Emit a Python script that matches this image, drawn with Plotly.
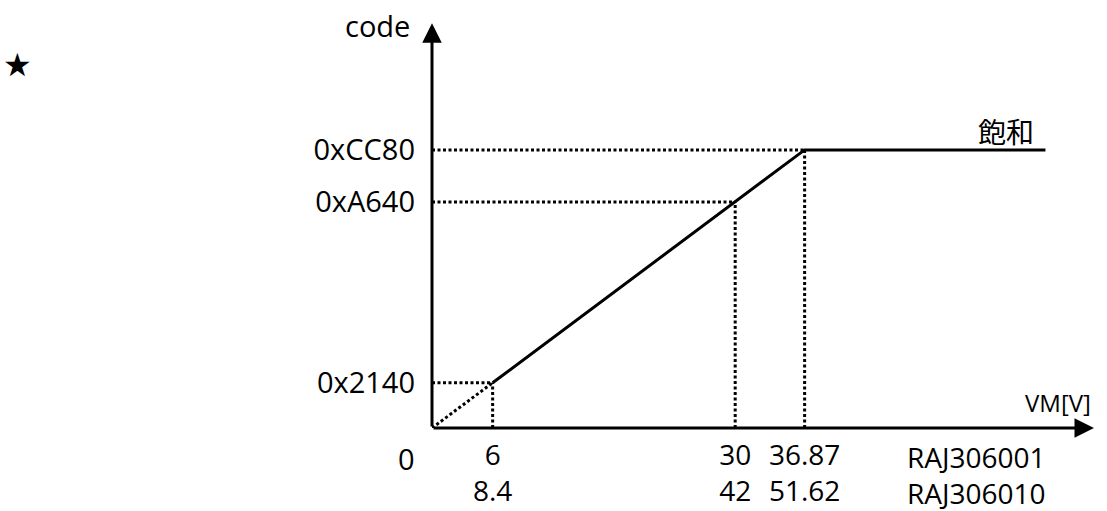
import plotly.graph_objects as go

# VM [V] for RAJ306001, the same points for RAJ306010, and the ADC codes
vm_001 = [6, 30, 36.87]
vm_010 = [8.4, 42, 51.62]
codes = [0x2140, 0xA640, 0xCC80]
code_labels = ["0x2140", "0xA640", "0xCC80"]
vm_sat_end = 60.7  # where the saturation line stops in the sketch
parts = ["RAJ306001", "RAJ306010"]

x_max = 65.8
y_max = 76800
font = "Open Sans"
dot = dict(color="black", width=3, dash="3px,2.5px")

fig = go.Figure()

# dotted guides from the axes to each point
for v, c in zip(vm_001, codes):
    fig.add_trace(go.Scatter(x=[v, v], y=[0, c], mode="lines", line=dot,
                             hoverinfo="skip", showlegend=False))
    fig.add_trace(go.Scatter(x=[0, v], y=[c, c], mode="lines", line=dot,
                             hoverinfo="skip", showlegend=False))

# dotted part below the first point
fig.add_trace(go.Scatter(x=[0, vm_001[0]], y=[0, codes[0]], mode="lines", line=dot,
                         hoverinfo="skip", showlegend=False))

# solid transfer curve with saturation
fig.add_trace(go.Scatter(x=[vm_001[0], vm_001[2], vm_sat_end],
                         y=[codes[0], codes[2], codes[2]], mode="lines",
                         line=dict(color="black", width=3),
                         hoverinfo="skip", showlegend=False))

ann = []
# axes with arrow heads
ann.append(dict(x=x_max - 0.3, y=0, ax=0, ay=0, xref="x", yref="y", axref="x", ayref="y",
                text="", showarrow=True, arrowhead=2, arrowsize=1.3, arrowwidth=3,
                arrowcolor="black", standoff=0, startstandoff=0))
ann.append(dict(x=0, y=y_max - 600, ax=0, ay=0, xref="x", yref="y", axref="x", ayref="y",
                text="", showarrow=True, arrowhead=2, arrowsize=1.3, arrowwidth=3,
                arrowcolor="black", standoff=0, startstandoff=0))

ann.append(dict(x=0, y=0, xref="x", yref="y", text="0", showarrow=False,
                xanchor="center", yanchor="middle", xshift=-26, yshift=-30,
                font=dict(family=font, size=29, color="black")))
ann.append(dict(x=0, y=y_max - 600, xref="x", yref="y", text="code", showarrow=False,
                xanchor="right", yanchor="middle", xshift=-20, yshift=-2,
                font=dict(family=font, size=29, color="black")))
ann.append(dict(x=x_max - 0.3, y=0, xref="x", yref="y", text="VM[V]", showarrow=False,
                xanchor="right", yanchor="middle", xshift=-1, yshift=26,
                font=dict(family=font, size=24, color="black")))
ann.append(dict(x=vm_sat_end, y=codes[2], xref="x", yref="y", text="飽和", showarrow=False,
                xanchor="right", yanchor="bottom", xshift=-9, yshift=-3,
                font=dict(family="Noto Sans CJK JP", size=28, color="black")))
ann.append(dict(x=53.9, y=0, xref="x", yref="y", text="<br>".join(parts), showarrow=False,
                xanchor="center", yanchor="top", yshift=-8, align="center",
                font=dict(family=font, size=28, color="black")))
ann.append(dict(x=-0.624, y=0.89, xref="paper", yref="paper", text="★", showarrow=False,
                xanchor="center", yanchor="middle",
                font=dict(family="DejaVu Sans", size=32, color="black")))

fig.update_layout(
    width=1107, height=511,
    margin=dict(l=432, r=10, t=20, b=83),
    paper_bgcolor="white", plot_bgcolor="white",
    annotations=ann,
    xaxis=dict(range=[0, x_max], showgrid=False, zeroline=False, showline=False,
               automargin=False,
               tickmode="array", tickvals=vm_001,
               ticktext=[f"{a}<br>{b}" for a, b in zip(vm_001, vm_010)],
               ticks="", ticklabelstandoff=8,
               tickfont=dict(family=font, size=28, color="black")),
    yaxis=dict(range=[0, y_max], showgrid=False, zeroline=False, showline=False,
               automargin=False,
               tickmode="array", tickvals=codes, ticktext=code_labels,
               ticks="", ticklabelstandoff=16,
               tickfont=dict(family=font, size=29, color="black")),
)

# drop the default page margin so the 1107x511 figure fills the window exactly
fig.write_html("out.html", config={"displayModeBar": False},
               post_script="document.body.style.margin='0';")
